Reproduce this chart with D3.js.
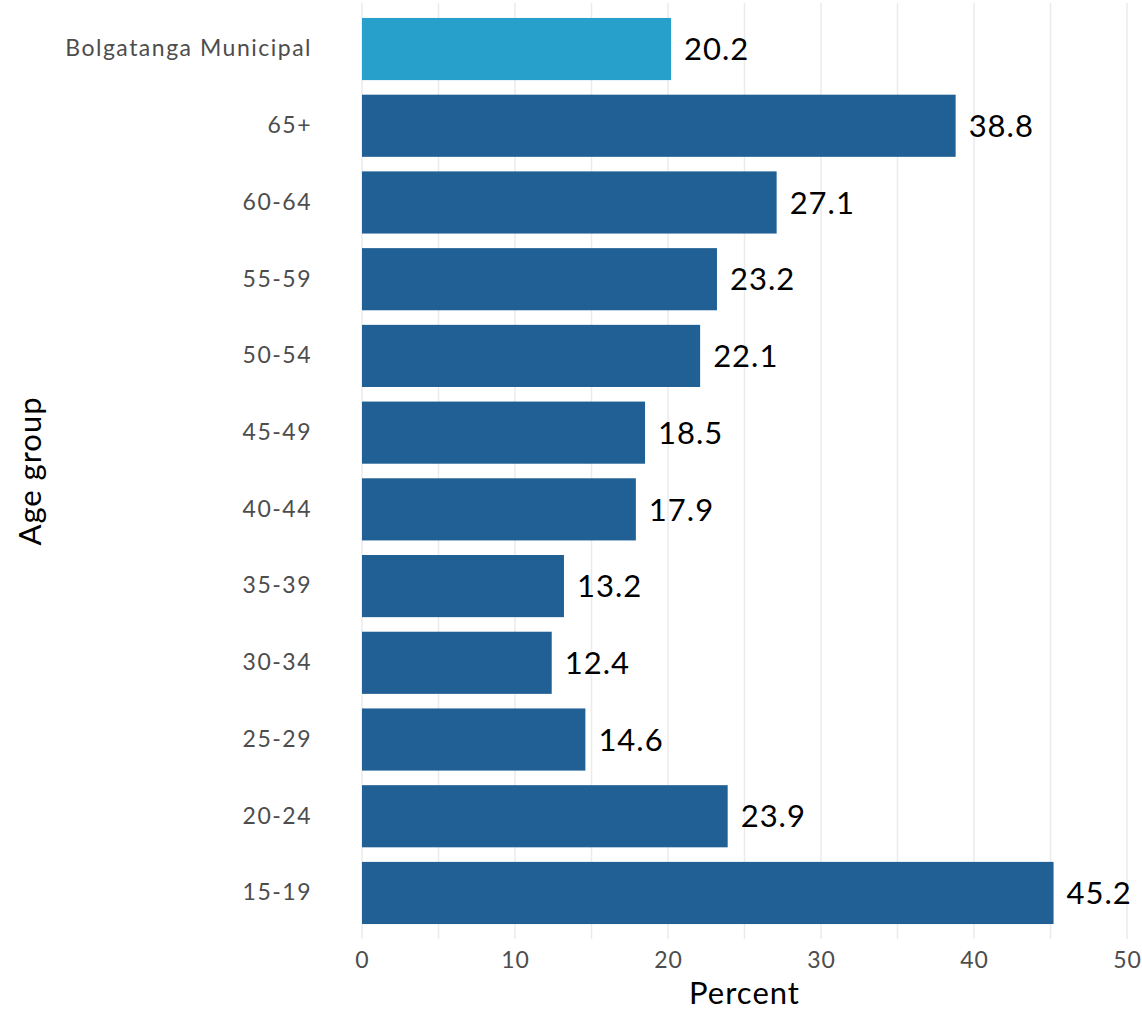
<!DOCTYPE html>
<html lang="en">
<head>
  <meta charset="UTF-8">
  <title>Age group chart</title>
  <script src="https://d3js.org/d3.v7.min.js"></script>
  <style>
    body { margin: 0; background: #fff; }
    text { font-family: Lato, "Open Sans", sans-serif; }
  </style>
</head>
<body>
<script type="text/javascript">
    // data
    var categories = ["Bolgatanga Municipal", "65+", "60-64", "55-59", "50-54", "45-49",
                      "40-44", "35-39", "30-34", "25-29", "20-24", "15-19"];
    var values = [20.2, 38.8, 27.1, 23.2, 22.1, 18.5, 17.9, 13.2, 12.4, 14.6, 23.9, 45.2];
    var xTicks = [0, 10, 20, 30, 40, 50];
    var xMinor = [5, 15, 25, 35, 45];

    var width = 1142, height = 1012;
    var padL = 362, padR = 1127, padT = 3, padB = 939;

    var svg = d3.select("body").append("svg")
                .attr("width", width)
                .attr("height", height);

    var x = d3.scaleLinear().domain([0, 50]).range([padL, padR]);

    // band scale with ggplot-like 0.6 expansion on each side
    var step = (padB - padT) / (categories.length - 1 + 1.2);
    var y = d3.scaleBand()
              .domain(categories)
              .range([padT + 0.6 * step - step / 2, padB - 0.6 * step + step / 2])
              .paddingInner(0.19)
              .paddingOuter(0.095);

    // grid
    svg.append("g").selectAll("line")
       .data(xTicks.concat(xMinor))
       .enter().append("line")
       .attr("x1", function(d){ return x(d); })
       .attr("x2", function(d){ return x(d); })
       .attr("y1", padT)
       .attr("y2", padB)
       .attr("stroke", "#ebebeb")
       .attr("stroke-width", 1.5);

    // bars
    svg.append("g").selectAll("rect")
       .data(categories)
       .enter().append("rect")
       .attr("x", x(0))
       .attr("y", function(d){ return y(d); })
       .attr("width", function(d, i){ return x(values[i]) - x(0); })
       .attr("height", y.bandwidth())
       .attr("fill", function(d, i){ return i === 0 ? "#27a0cc" : "#206095"; });

    // value labels
    svg.append("g").selectAll("text")
       .data(categories)
       .enter().append("text")
       .attr("x", function(d, i){ return x(values[i]) + 13; })
       .attr("y", function(d){ return y(d) + y.bandwidth() / 2; })
       .attr("dy", "0.36em")
       .attr("font-size", 31)
       .attr("letter-spacing", 1)
       .attr("fill", "#000")
       .text(function(d, i){ return values[i].toFixed(1); });

    // x axis
    var xAxis = svg.append("g")
       .attr("transform", "translate(0," + padB + ")")
       .call(d3.axisBottom(x).tickValues(xTicks).tickSize(0).tickPadding(13));
    xAxis.select(".domain").remove();
    xAxis.selectAll("text")
         .attr("font-size", 23)
         .attr("letter-spacing", 1)
         .attr("fill", "#4d4d4d")
         .style("font-family", "Lato, sans-serif");

    // y axis
    var yAxis = svg.append("g")
       .attr("transform", "translate(" + padL + ",0)")
       .call(d3.axisLeft(y).tickSize(0).tickPadding(50));
    yAxis.select(".domain").remove();
    yAxis.selectAll("text")
         .attr("font-size", 23)
         .attr("letter-spacing", 1.5)
         .attr("fill", "#4d4d4d")
         .style("font-family", "Lato, sans-serif");

    // axis titles
    svg.append("text")
       .attr("x", (padL + padR) / 2)
       .attr("y", 1004)
       .attr("text-anchor", "middle")
       .attr("font-size", 31)
       .attr("letter-spacing", 1)
       .attr("fill", "#000")
       .text("Percent");

    svg.append("text")
       .attr("transform", "translate(30," + ((padT + padB) / 2) + ") rotate(-90)")
       .attr("dy", "0.36em")
       .attr("text-anchor", "middle")
       .attr("font-size", 31)
       .attr("letter-spacing", 1)
       .attr("fill", "#000")
       .text("Age group");
</script>
</body>
</html>
